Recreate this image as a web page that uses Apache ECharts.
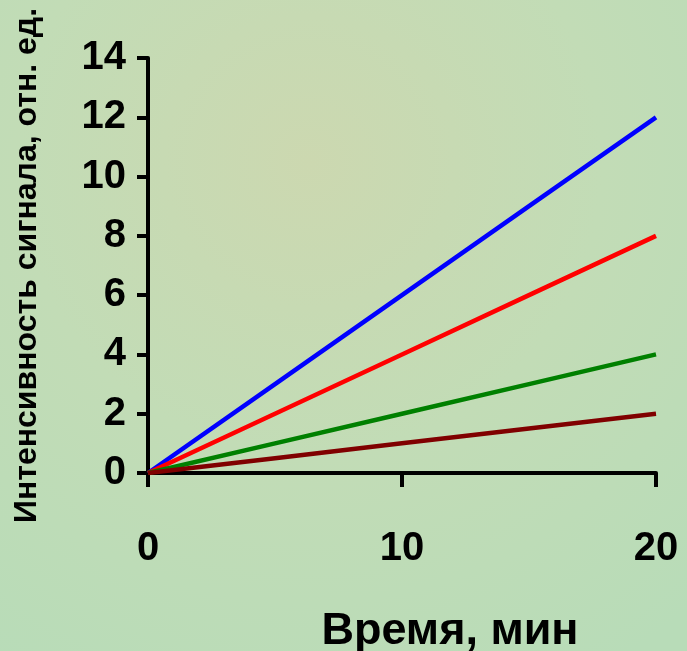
<!DOCTYPE html>
<html>
<head>
<meta charset="utf-8">
<script src="https://cdn.jsdelivr.net/npm/echarts@6/dist/echarts.min.js"></script>
<style>
html,body{margin:0;padding:0;}
#chart{width:687px;height:651px;}
</style>
</head>
<body>
<div id="chart"></div>
<script>
var timeMin = [0, 5, 10, 15, 20];
var blueSeries = [0, 3, 6, 9, 12];
var redSeries = [0, 2, 4, 6, 8];
var greenSeries = [0, 1, 2, 3, 4];
var darkRedSeries = [0, 0.5, 1, 1.5, 2];
var xTicks = [0, 10, 20];
var yTicks = [0, 2, 4, 6, 8, 10, 12, 14];

function pairs(vals) { return timeMin.map(function (t, i) { return [t, vals[i]]; }); }

var chart = echarts.init(document.getElementById('chart'));
var font = '"Liberation Sans", Arial, sans-serif';
function line(name, vals, color) {
  return { name: name, type: 'line', data: pairs(vals), symbol: 'none',
    lineStyle: { color: color, width: 4.5 }, z: 3 };
}
chart.setOption({
  backgroundColor: {
    type: 'radial', x: 0.45, y: 0.25, r: 0.9,
    colorStops: [
      { offset: 0, color: '#ccd8b0' },
      { offset: 0.5, color: '#c2dcb6' },
      { offset: 1, color: '#b8dcb8' }
    ]
  },
  animation: false,
  grid: { left: 148, right: 31, top: 58, bottom: 178, containLabel: false, outerBoundsMode: 'none' },
  xAxis: {
    type: 'value', min: 0, max: 20, interval: 10,
    splitLine: { show: false },
    axisLine: { lineStyle: { color: '#000', width: 4 } },
    axisTick: { show: true, length: 14, lineStyle: { color: '#000', width: 4 } },
    axisLabel: { margin: 56, fontSize: 40, fontWeight: 'bold', color: '#000', fontFamily: font,
      formatter: function (v) { return xTicks.indexOf(v) >= 0 ? String(v) : ''; } },
    name: 'Время, мин', nameLocation: 'middle', nameGap: 136,
    nameTextStyle: { fontSize: 45, fontWeight: 'bold', color: '#000', fontFamily: font, padding: [0, 0, 0, 96] }
  },
  yAxis: {
    type: 'value', min: 0, max: 14, interval: 2,
    splitLine: { show: false },
    axisLine: { lineStyle: { color: '#000', width: 4 } },
    axisTick: { show: true, length: 11, lineStyle: { color: '#000', width: 4 } },
    axisLabel: { margin: 22, fontSize: 40, fontWeight: 'bold', color: '#000', fontFamily: font,
      formatter: function (v) { return yTicks.indexOf(v) >= 0 ? String(v) : ''; } },
    name: 'Интенсивность сигнала, отн. ед.', nameLocation: 'middle', nameGap: 105, nameRotate: 90,
    nameTextStyle: { fontSize: 32, fontWeight: 'bold', color: '#000', fontFamily: font }
  },
  series: [
    line('blue', blueSeries, '#0000ff'),
    line('red', redSeries, '#ff0000'),
    line('green', greenSeries, '#008000'),
    line('darkred', darkRedSeries, '#800000')
  ]
});
</script>
</body>
</html>
